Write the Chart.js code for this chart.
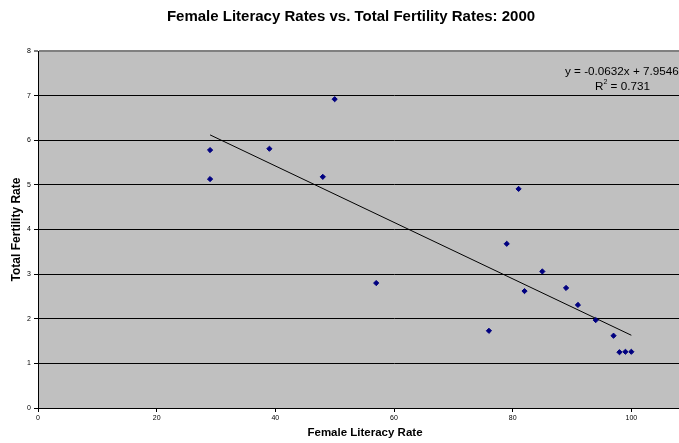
<!DOCTYPE html>
<html>
<head>
<meta charset="utf-8">
<script src="https://cdn.jsdelivr.net/npm/chart.js@4/dist/chart.umd.min.js"></script>
<style>
  html, body { margin: 0; padding: 0; background: #fff; overflow: hidden; width: 679px; height: 443px; }
  #wrap { width: 770px; height: 443px; }
</style>
</head>
<body>
<div id="wrap"><canvas id="fertChart" width="770" height="443"></canvas></div>
<script>
// Female literacy (%) vs total fertility rate, 2000
const literacy  = [29, 29, 39, 48, 50, 57, 76, 79, 81, 82, 85, 89, 91, 94, 97, 98, 99, 100];
const fertility = [5.78, 5.13, 5.81, 5.18, 6.92, 2.80, 1.73, 3.68, 4.91, 2.62, 3.06, 2.69, 2.31, 1.97, 1.62, 1.25, 1.26, 1.26];

// linear trendline end points as drawn
const trendX = [29, 100];
const trendY = [6.12, 1.63];

const xTicks = [0, 20, 40, 60, 80, 100, 120];
const yTicks = [0, 1, 2, 3, 4, 5, 6, 7, 8];

const TITLE = 'Female Literacy Rates vs. Total Fertility Rates: 2000';
const X_TITLE = 'Female Literacy Rate';
const Y_TITLE = 'Total Fertility Rate';
const EQUATION = 'y = -0.0632x + 7.9546';
const R2_VALUE = ' = 0.731';

const FONT = '"Liberation Sans", Arial, sans-serif';

// titles + trendline label, drawn straight on the canvas
const labelPlugin = {
    id: 'labels',
    afterDraw(chart) {
        const ctx = chart.ctx;
        const area = chart.chartArea;
        ctx.save();
        ctx.fillStyle = '#000';
        ctx.textBaseline = 'middle';

        ctx.textAlign = 'center';
        ctx.font = 'bold 15px ' + FONT;
        ctx.fillText(TITLE, 351, 17);

        ctx.font = 'bold 11.5px ' + FONT;
        ctx.fillText(X_TITLE, 365, 433);

        ctx.save();
        ctx.font = 'bold 12px ' + FONT;
        ctx.translate(17, (area.top + area.bottom) / 2);
        ctx.rotate(-Math.PI / 2);
        ctx.fillText(Y_TITLE, 0, 0);
        ctx.restore();

        // regression equation and R squared
        ctx.font = '11.7px ' + FONT;
        ctx.textAlign = 'left';
        ctx.fillText(EQUATION, 565, 72);
        ctx.fillText('R', 595, 87);
        const rw = ctx.measureText('R').width;
        ctx.font = '7px ' + FONT;
        ctx.fillText('2', 595 + rw, 82);
        const sw = ctx.measureText('2').width;
        ctx.font = '11.7px ' + FONT;
        ctx.fillText(R2_VALUE, 595 + rw + sw, 87);
        ctx.restore();
    }
};

const plotBg = {
    id: 'plotBg',
    beforeDraw(chart) {
        const { ctx, chartArea: a } = chart;
        ctx.save();
        ctx.fillStyle = '#c0c0c0';
        ctx.fillRect(a.left, a.top, a.right - a.left, a.bottom - a.top);
        ctx.restore();
    }
};

new Chart(document.getElementById('fertChart'), {
    type: 'scatter',
    data: {
        datasets: [{
            label: 'Countries',
            data: literacy.map((x, i) => ({ x, y: fertility[i] })),
            pointStyle: 'rectRot',
            pointRadius: 2.6,
            pointBackgroundColor: '#000080',
            pointBorderColor: '#000080',
            pointBorderWidth: 1
        }, {
            label: 'Linear trend',
            data: trendX.map((x, i) => ({ x, y: trendY[i] })),
            showLine: true,
            borderColor: '#000',
            borderWidth: 1,
            pointRadius: 0
        }]
    },
    options: {
        responsive: false,
        animation: false,
        layout: { padding: { top: 51, right: 20, left: 0, bottom: 0 } },
        plugins: {
            legend: { display: false },
            tooltip: { enabled: false }
        },
        scales: {
            x: {
                type: 'linear',
                min: 0,
                max: 120,
                afterFit: s => { s.height = 35; },
                afterBuildTicks: s => { s.ticks = xTicks.map(v => ({ value: v })); },
                ticks: { font: { family: FONT, size: 7 }, color: '#000', padding: 2, maxRotation: 0 },
                grid: { drawOnChartArea: false, color: '#000', tickLength: 4 },
                border: { color: '#000', width: 1 }
            },
            y: {
                min: 0,
                max: 8,
                afterFit: s => { s.width = 38; },
                afterBuildTicks: s => { s.ticks = yTicks.map(v => ({ value: v })); },
                ticks: { font: { family: FONT, size: 7 }, color: '#000', padding: 3 },
                grid: {
                    color: c => (c.tick && c.tick.value === 8) ? '#808080' : '#000',
                    lineWidth: c => (c.tick && c.tick.value === 8) ? 2 : 1,
                    tickLength: 4
                },
                border: { color: '#000', width: 1 }
            }
        }
    },
    plugins: [plotBg, labelPlugin]
});
</script>
</body>
</html>
